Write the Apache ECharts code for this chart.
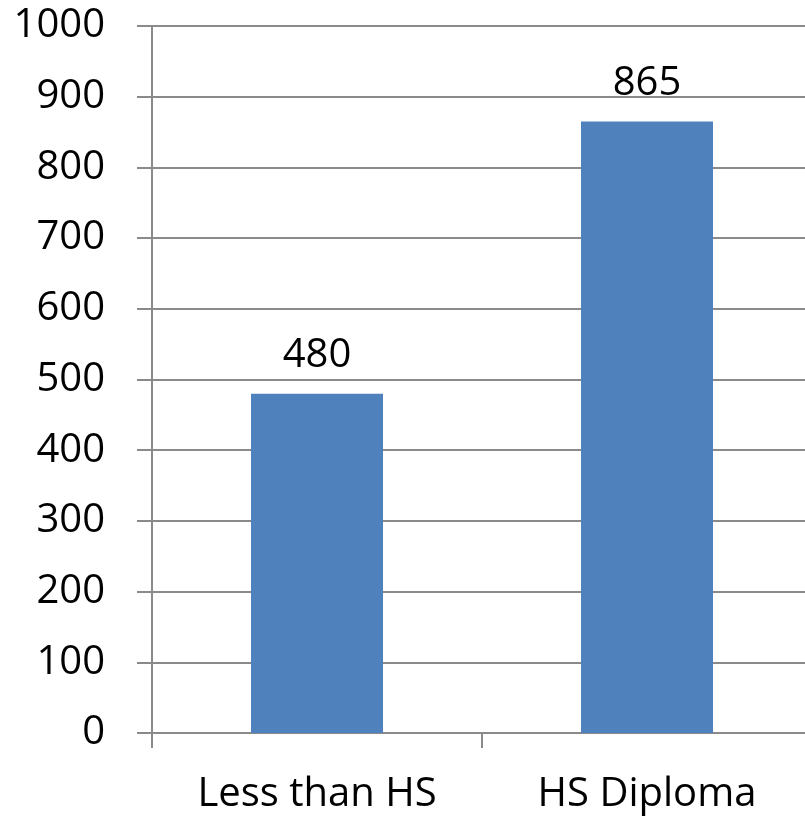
<!DOCTYPE html>
<html>
<head>
<meta charset="utf-8">
<script src="https://cdn.jsdelivr.net/npm/echarts@6/dist/echarts.min.js"></script>
<style>html,body{margin:0;padding:0;background:#fff;}#c{width:805px;height:817px;}</style>
</head>
<body>
<div id="c"></div>
<script>
const categories = ['Less than HS', 'HS Diploma'];
const values = [480, 865];
const yMin = 0, yMax = 1000, yInterval = 100;

const FONT = '"Open Sans", sans-serif';
const chart = echarts.init(document.getElementById('c'), null, {renderer: 'canvas'});
chart.setOption({
  animation: false,
  backgroundColor: '#ffffff',
  grid: {left: 152, top: 26, width: 660, height: 707, containLabel: false, outerBoundsMode: 'none'},
  xAxis: {
    type: 'category',
    data: categories,
    axisLine: {show: true, lineStyle: {color: '#8a8a8a', width: 2}},
    axisTick: {show: true, length: 15, alignWithLabel: false, lineStyle: {color: '#8a8a8a', width: 2}},
    axisLabel: {color: '#000', fontSize: 40, fontFamily: FONT, margin: 42, interval: 0}
  },
  yAxis: {
    type: 'value',
    min: yMin, max: yMax, interval: yInterval,
    axisLine: {show: true, lineStyle: {color: '#8a8a8a', width: 2}},
    axisTick: {show: true, length: 15, lineStyle: {color: '#8a8a8a', width: 2}},
    splitLine: {show: true, lineStyle: {color: '#8a8a8a', width: 2}},
    axisLabel: {color: '#000', fontSize: 40, fontFamily: FONT, margin: 47, formatter: function (v) { return String(v); }}
  },
  series: [{
    type: 'bar',
    data: values,
    barWidth: '40%',
    itemStyle: {color: '#4F81BD'},
    label: {show: true, position: 'top', distance: 18, color: '#000', fontSize: 40, fontFamily: FONT}
  }]
});
</script>
</body>
</html>
